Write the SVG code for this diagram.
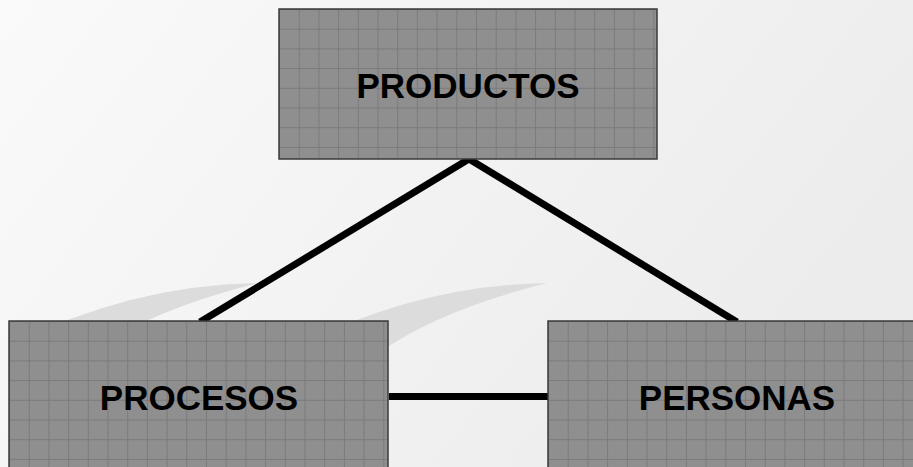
<svg xmlns="http://www.w3.org/2000/svg" width="913" height="467" viewBox="0 0 913 467">
<defs>
<linearGradient id="bg" x1="0" y1="0" x2="1" y2="0.4">
<stop offset="0" stop-color="#fafafa"/>
<stop offset="1" stop-color="#ececec"/>
</linearGradient>
<pattern id="grid" width="19.7" height="19.7" patternUnits="userSpaceOnUse">
<rect width="19.7" height="19.7" fill="#8f8f8f"/>
<path d="M0,0.5 H19.7 M0.5,0 V19.7" stroke="#7b7b7b" stroke-width="1" fill="none"/>
</pattern>
<style>
.box{fill:url(#grid);stroke:#3a3a3a;stroke-width:1.5}
.lbl{font-family:"Liberation Sans",Arial,sans-serif;font-weight:bold;font-size:35px;fill:#000;text-anchor:middle}
.conn{stroke:#000;stroke-width:7;fill:none}
.sw{fill:#dcdcdc}
</style>
</defs>
<rect width="913" height="467" fill="url(#bg)"/>
<g id="decor">
<path class="sw" d="M258,283 Q131,285 11,345 L 91,352 Q 151,310 258,283 Z"/>
<path class="sw" d="M547,283 Q420,285 300,345 L 380,352 Q 440,310 547,283 Z"/>
</g>
<g id="connectors">
<line class="conn" x1="469" y1="159" x2="200" y2="322"/>
<line class="conn" x1="469" y1="159" x2="737" y2="322"/>
<line class="conn" x1="389" y1="396.5" x2="548" y2="396.5"/>
</g>
<g id="productos" transform="translate(279,9)">
<rect class="box" width="378" height="150"/>
<text class="lbl" x="189" y="89">PRODUCTOS</text>
</g>
<g id="procesos" transform="translate(9,321)">
<rect class="box" width="379" height="160"/>
<text class="lbl" x="190" y="89">PROCESOS</text>
</g>
<g id="personas" transform="translate(548,321)">
<rect class="box" width="380" height="160"/>
<text class="lbl" x="189" y="89">PERSONAS</text>
</g>
</svg>
